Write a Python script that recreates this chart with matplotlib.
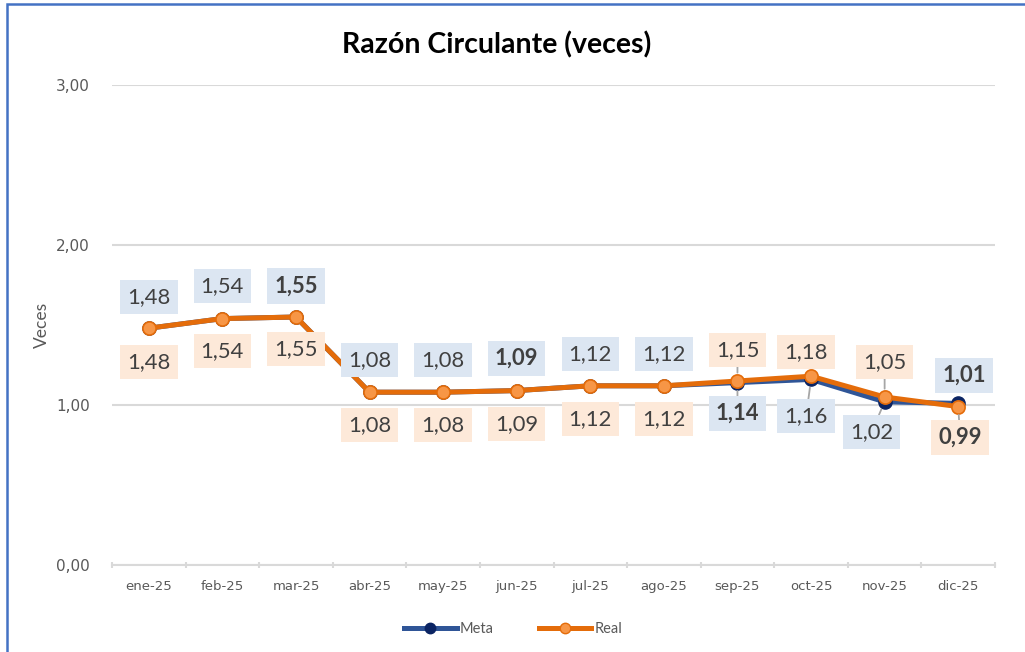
import matplotlib
matplotlib.use("Agg")
import matplotlib.pyplot as plt
from matplotlib.patches import Rectangle
from matplotlib.lines import Line2D

categories = ["ene-25", "feb-25", "mar-25", "abr-25", "may-25", "jun-25",
              "jul-25", "ago-25", "sep-25", "oct-25", "nov-25", "dic-25"]
meta = [1.48, 1.54, 1.55, 1.08, 1.08, 1.09, 1.12, 1.12, 1.14, 1.16, 1.02, 1.01]
real = [1.48, 1.54, 1.55, 1.08, 1.08, 1.09, 1.12, 1.12, 1.15, 1.18, 1.05, 0.99]
yticks = [0, 1, 2, 3]

# label placement (pixel offsets), bold flags, leader-line flags
meta_off = [(0, 31), (0, 33), (0, 31), (0, 32), (0, 32), (0, 32), (0, 32), (0, 32),
            (0, -31), (-5, -37), (-13, -30), (6, 28)]
real_off = [(0, -34), (0, -32), (0, -32), (0, -33), (0, -33), (0, -33), (0, -33), (0, -33),
            (0, 31), (-5, 24), (0, 35), (2, -31)]
meta_bold = [False, False, True, False, False, True, False, False, True, False, False, True]
real_bold = [False] * 11 + [True]
meta_lead = [False] * 8 + [True, True, True, False]
real_lead = [False] * 8 + [True, False, True, True]

W, H, DPI = 1025, 652, 100
fig = plt.figure(figsize=(W / DPI, H / DPI), dpi=DPI)
ax = fig.add_axes([112 / W, 1 - 565 / H, (995 - 112) / W, (565 - 85) / H])

x = list(range(len(categories)))
C_META_LINE = "#2F5597"
C_META_MK = "#0B2463"
C_REAL_LINE = "#E46C0A"
C_REAL_MK = "#F79646"
TXT = "#404040"

ax.plot(x, meta, color=C_META_LINE, lw=3.6, marker="o", ms=9.5,
        mfc=C_META_MK, mec=C_META_MK, zorder=3, solid_capstyle="round")
ax.plot(x, real, color=C_REAL_LINE, lw=3.6, marker="o", ms=9.5,
        mfc=C_REAL_MK, mec=C_REAL_LINE, mew=1.2, zorder=4, solid_capstyle="round")

def put_labels(vals, offs, bolds, leads, face):
    for i, v in enumerate(vals):
        dx, dy = offs[i]
        ap = None
        if leads[i]:
            ap = dict(arrowstyle="-", color="#A6A6A6", lw=1.3, shrinkA=0, shrinkB=6)
        ax.annotate(f"{v:.2f}".replace(".", ","), xy=(i, v), xytext=(dx, dy),
                    textcoords="offset pixels", ha="center", va="center",
                    fontsize=15.8, family="Lato", color=TXT,
                    fontweight="bold" if bolds[i] else "normal",
                    bbox=dict(boxstyle="square,pad=0.32", fc=face, ec="none"),
                    arrowprops=ap, zorder=6)

put_labels(meta, meta_off, meta_bold, meta_lead, "#DCE6F2")
put_labels(real, real_off, real_bold, real_lead, "#FDE9D9")

ax.set_xlim(-0.5, len(categories) - 0.5)
ax.set_ylim(0, 3)
ax.set_yticks(yticks)
ax.set_yticklabels([f"{t:.2f}".replace(".", ",") for t in yticks])
ax.set_xticks(x)
ax.set_xticklabels(categories)
ax.set_xticks([i - 0.5 for i in range(len(categories) + 1)], minor=True)
ax.tick_params(axis="x", which="major", length=0, pad=11, labelsize=9.5, labelcolor="#595959")
ax.tick_params(axis="x", which="minor", length=5, width=1.5, color="#D9D9D9", direction="inout")
ax.tick_params(axis="y", length=0, pad=16, labelsize=11, labelcolor="#595959")
for lbl in ax.get_xticklabels() + ax.get_yticklabels():
    lbl.set_family("DejaVu Sans")
ax.grid(axis="y", color="#D9D9D9", lw=1.5)
ax.set_axisbelow(True)
for s in ["top", "right", "left"]:
    ax.spines[s].set_visible(False)
ax.spines["bottom"].set_color("#D9D9D9")
ax.spines["bottom"].set_linewidth(1.5)

fig.text(42 / W, 1 - 325 / H, "Veces", rotation=90, ha="center", va="center",
         fontsize=12.5, color="#595959", family="Lato")
fig.text(497 / W, 1 - 45 / H, "Razón Circulante (veces)", ha="center", va="center",
         fontsize=20.5, fontweight="bold", color="#000000", family="Lato")

handles = [
    Line2D([], [], color=C_META_LINE, lw=3.6, marker="o", ms=7.5, mfc=C_META_MK, mec=C_META_MK),
    Line2D([], [], color=C_REAL_LINE, lw=3.6, marker="o", ms=7.5, mfc=C_REAL_MK, mec=C_REAL_LINE),
]
fig.legend(handles, ["Meta", "Real"], loc="center", bbox_to_anchor=(513 / W, 1 - 629 / H),
           ncol=2, frameon=False, handlelength=3.6, handletextpad=0.2, columnspacing=3.1,
           prop=dict(family="Lato", size=10.5), labelcolor="#595959")

fig.patches.append(Rectangle((6.5 / W, -0.1), 1.2, 1.1 - 4.5 / H, transform=fig.transFigure,
                             fill=False, ec="#4472C4", lw=1.8, clip_on=False))

fig.savefig("out.png", dpi=DPI)
